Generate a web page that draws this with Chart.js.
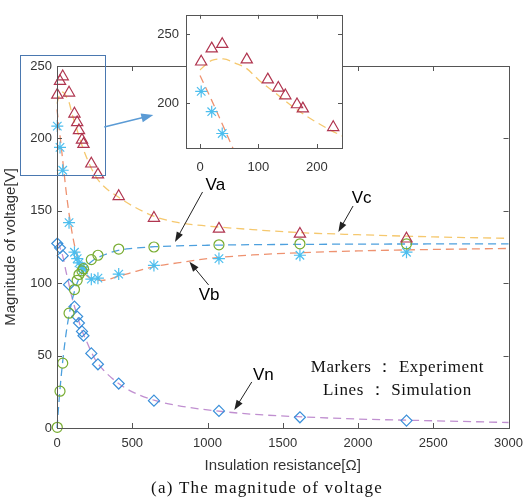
<!DOCTYPE html>
<html>
<head>
<meta charset="utf-8">
<script src="https://cdn.jsdelivr.net/npm/chart.js@4.4.1/dist/chart.umd.min.js"></script>
<style>
    html, body { margin: 0; padding: 0; background: #fff; }
    #wrap { position: relative; width: 531px; height: 502px; }
    #main { position: absolute; left: 0; top: 0; }
    #inset { position: absolute; left: 140px; top: 0; }
</style>
</head>
<body>
<div id="wrap">
    <canvas id="main" width="531" height="502"></canvas>
    <canvas id="inset" width="215" height="180"></canvas>
</div>
<script>
// Experiment: insulation resistance [ohm] and measured phase voltages [V]
const expR  = [2, 20, 38, 80, 116, 134, 146, 166, 176, 228, 272, 410, 644, 1076, 1614, 2322];
const expVa = [0.5, 25.4, 44.8, 79.3, 95.6, 102, 106, 108.5, 110, 116.3, 119.3, 123.6, 125, 126.5, 127.2, 127.2];
const expVb = [208.5, 193.8, 178, 141.8, 121.4, 117, 114, 111, 109.4, 102.8, 103.5, 106.3, 112.3, 117, 119.3, 121.4];
const expVc = [230, 239.5, 242.7, 231.5, 217, 211, 205.5, 199, 196, 182.5, 175, 160, 145, 137.5, 134, 130.7];
const expVn = [127.4, 124.4, 119, 99, 83.8, 77, 72.5, 66.7, 63.7, 51.5, 44, 30.7, 18.9, 11.8, 7.4, 5.1];

// Simulation curves
const simR  = [0, 10, 20, 40, 60, 80, 100, 130, 160, 200, 250, 300, 400, 500, 650, 800, 1000, 1300, 1600, 2000, 2500, 3000];
const simVa = [0, 14, 27, 48, 65, 78, 88, 99, 106, 112, 116.5, 119, 122.5, 124, 125.2, 125.8, 126.2, 126.6, 126.8, 127, 127.1, 127.2];
const simVb = [220, 211, 202, 183, 164, 148, 135, 120, 111, 105, 102.5, 102, 104.5, 107.5, 111.5, 114, 117, 119.5, 121, 122.3, 123.3, 124];
const simVc = [224, 228, 231, 232, 229, 225, 217, 207, 197, 186, 175, 168, 160, 153.5, 146, 142, 139.5, 137, 135, 133.5, 132, 131];
const simVn = [128, 127, 124.5, 118, 108, 99, 90, 79, 69, 59, 48, 41, 31.5, 25, 19, 15.5, 12.5, 9.5, 7.8, 6.2, 5, 3.8];

// Tick labels
const xTicks = [0, 500, 1000, 1500, 2000, 2500, 3000];
const yTicks = [0, 50, 100, 150, 200, 250];
const insetXTicks = [0, 100, 200];
const insetYTicks = [200, 250];

const SANS = '"Liberation Sans", Arial, sans-serif';
const SERIF = '"Liberation Serif", "DejaVu Serif", serif';
const AXIS = '#555';

function pts(xs, ys) {
    return xs.map((x, i) => ({ x: x, y: ys[i] }));
}

function markerSet(label, ys, style, color, radius, clip) {
    return {
        label: label, data: pts(expR, ys), showLine: false,
        pointStyle: style, pointRadius: radius, pointBorderColor: color,
        pointBackgroundColor: 'rgba(0,0,0,0)', pointBorderWidth: 1.2, clip: clip
    };
}

function lineSet(label, ys, color, clip) {
    return {
        label: label, data: pts(simR, ys), showLine: true, pointRadius: 0,
        borderColor: color, borderWidth: 1.3, borderDash: [8, 5],
        cubicInterpolationMode: 'monotone', clip: clip
    };
}

function arrow(ctx, x1, y1, x2, y2, color, width, len, half) {
    const ang = Math.atan2(y2 - y1, x2 - x1);
    ctx.strokeStyle = color; ctx.fillStyle = color; ctx.lineWidth = width;
    ctx.beginPath();
    ctx.moveTo(x1, y1);
    ctx.lineTo(x2 - Math.cos(ang) * len * 0.8, y2 - Math.sin(ang) * len * 0.8);
    ctx.stroke();
    ctx.beginPath();
    ctx.moveTo(x2, y2);
    ctx.lineTo(x2 - Math.cos(ang) * len - Math.sin(ang) * half, y2 - Math.sin(ang) * len + Math.cos(ang) * half);
    ctx.lineTo(x2 - Math.cos(ang) * len + Math.sin(ang) * half, y2 - Math.sin(ang) * len - Math.cos(ang) * half);
    ctx.closePath();
    ctx.fill();
}

// box around the plot with inward ticks on all four sides
function drawBox(chart, len) {
    const { ctx, chartArea: a, scales: { x, y } } = chart;
    ctx.save();
    ctx.strokeStyle = AXIS; ctx.lineWidth = 1;
    ctx.strokeRect(Math.round(a.left) + 0.5, Math.round(a.top) + 0.5,
        Math.round(a.right - a.left), Math.round(a.bottom - a.top));
    ctx.beginPath();
    x.ticks.forEach(t => {
        const px = Math.round(x.getPixelForValue(t.value)) + 0.5;
        ctx.moveTo(px, a.bottom); ctx.lineTo(px, a.bottom - len);
        ctx.moveTo(px, a.top); ctx.lineTo(px, a.top + len);
    });
    y.ticks.forEach(t => {
        const py = Math.round(y.getPixelForValue(t.value)) + 0.5;
        ctx.moveTo(a.left, py); ctx.lineTo(a.left + len, py);
        ctx.moveTo(a.right, py); ctx.lineTo(a.right - len, py);
    });
    ctx.stroke();
    ctx.restore();
}

const mainDecor = {
    id: 'mainDecor',
    afterDraw(chart) {
        const { ctx, scales: { x, y } } = chart;
        drawBox(chart, 5);
        const X = v => x.getPixelForValue(v);
        const Y = v => y.getPixelForValue(v);
        ctx.save();

        // zoom window and its pointer to the inset
        ctx.strokeStyle = '#4A78B0'; ctx.lineWidth = 1;
        ctx.strokeRect(Math.round(X(-248)) + 0.5, Math.round(Y(257.6)) + 0.5,
            Math.round(X(314) - X(-248)), Math.round(Y(174.7) - Y(257.6)));
        arrow(ctx, X(314), Y(207.9), X(640), Y(216.2), '#5B9BD5', 1.5, 12, 4.5);

        // phase labels
        ctx.font = '17px ' + SANS;
        ctx.fillStyle = '#000';
        ctx.textAlign = 'center'; ctx.textBaseline = 'middle';
        ctx.fillText('Va', X(1052), Y(167.8));
        ctx.fillText('Vc', X(2024), Y(158.6));
        ctx.fillText('Vb', X(1011), Y(91.9));
        ctx.fillText('Vn', X(1371), Y(36.6));
        arrow(ctx, X(967), Y(163), X(784), Y(128.5), '#222', 1, 10, 3.5);
        arrow(ctx, X(1967), Y(153.3), X(1869), Y(135.4), '#222', 1, 10, 3.5);
        arrow(ctx, X(1007), Y(98.8), X(880), Y(114.8), '#222', 1, 10, 3.5);
        arrow(ctx, X(1294), Y(31.8), X(1178), Y(12.4), '#222', 1, 10, 3.5);

        ctx.fillStyle = '#111';
        ctx.font = '17px ' + SERIF;
        ctx.letterSpacing = '0.6px';
        ctx.fillText('Markers \uff1a Experiment', X(2262), Y(42));
        ctx.fillText('Lines \uff1a Simulation', X(2262), Y(26.2));

        // caption
        ctx.font = '17px ' + SERIF;
        ctx.letterSpacing = '1.2px';
        ctx.fillText('(a) The magnitude of voltage', 267, 489);
        ctx.restore();
    }
};

new Chart(document.getElementById('main'), {
    type: 'scatter',
    data: {
        datasets: [
            markerSet('Vc exp', expVc, 'triangle', '#B0354F', 6.5, false),
            markerSet('Va exp', expVa, 'circle', '#77AC30', 5, false),
            markerSet('Vb exp', expVb, 'star', '#4DBEEE', 6, false),
            markerSet('Vn exp', expVn, 'rectRot', '#3A8FD9', 5.5, false),
            lineSet('Va sim', simVa, '#4DA0DE', 2),
            lineSet('Vb sim', simVb, '#EE9270', 2),
            lineSet('Vc sim', simVc, '#F5C86E', 2),
            lineSet('Vn sim', simVn, '#C08FD0', 2)
        ]
    },
    options: {
        responsive: false,
        animation: false,
        layout: { padding: { left: 0, top: 66, right: 15, bottom: 24 } },
        plugins: { legend: { display: false }, tooltip: { enabled: false } },
        scales: {
            x: {
                type: 'linear', min: 0, max: 3000,
                afterBuildTicks: s => { s.ticks = xTicks.map(v => ({ value: v })); },
                afterFit: s => { s.height = 50; },
                grid: { display: false, drawTicks: false },
                border: { display: false },
                ticks: { padding: 8, color: '#333', font: { family: SANS, size: 13 },
                    callback: v => String(v) },
                title: { display: true, text: 'Insulation resistance[\u03a9]', color: '#333',
                    font: { family: SANS, size: 15 }, padding: { top: 4, bottom: 3 } }
            },
            y: {
                type: 'linear', min: 0, max: 250,
                afterBuildTicks: s => { s.ticks = yTicks.map(v => ({ value: v })); },
                afterFit: s => { s.width = 57; },
                grid: { display: false, drawTicks: false },
                border: { display: false },
                ticks: { padding: 5, color: '#333', font: { family: SANS, size: 13 },
                    callback: v => String(v) },
                title: { display: true, text: 'Magnitude of voltage[V]', color: '#333',
                    font: { family: SANS, size: 15 }, padding: { top: 2, bottom: 2 } }
            }
        }
    },
    plugins: [mainDecor]
});

const insetDecor = {
    id: 'insetDecor',
    beforeDraw(chart) {
        const { ctx, chartArea: a } = chart;
        ctx.save();
        ctx.fillStyle = '#fff';
        ctx.fillRect(a.left, a.top, a.right - a.left, a.bottom - a.top);
        ctx.restore();
    },
    afterDraw(chart) {
        drawBox(chart, 4);
    }
};

new Chart(document.getElementById('inset'), {
    type: 'scatter',
    data: {
        datasets: [
            markerSet('Vc exp', expVc, 'triangle', '#B0354F', 6.5, 8),
            markerSet('Vb exp', expVb, 'star', '#4DBEEE', 6, 8),
            lineSet('Vb sim', simVb, '#EE9270', 0),
            lineSet('Vc sim', simVc, '#F5C86E', 0)
        ]
    },
    options: {
        responsive: false,
        animation: false,
        layout: { padding: { left: 0, top: 11, right: 13, bottom: 0 } },
        plugins: { legend: { display: false }, tooltip: { enabled: false } },
        scales: {
            x: {
                type: 'linear', min: -24, max: 243,
                afterBuildTicks: s => { s.ticks = insetXTicks.map(v => ({ value: v })); },
                afterFit: s => { s.height = 32; },
                grid: { display: false, drawTicks: false },
                border: { display: false },
                ticks: { padding: 12, color: '#333', font: { family: SANS, size: 13 },
                    callback: v => String(v) }
            },
            y: {
                type: 'linear', min: 167.5, max: 264,
                afterBuildTicks: s => { s.ticks = insetYTicks.map(v => ({ value: v })); },
                afterFit: s => { s.width = 46; },
                grid: { display: false, drawTicks: false },
                border: { display: false },
                ticks: { padding: 7, color: '#333', font: { family: SANS, size: 13 },
                    callback: v => String(v) }
            }
        }
    },
    plugins: [insetDecor]
});
</script>
</body>
</html>
